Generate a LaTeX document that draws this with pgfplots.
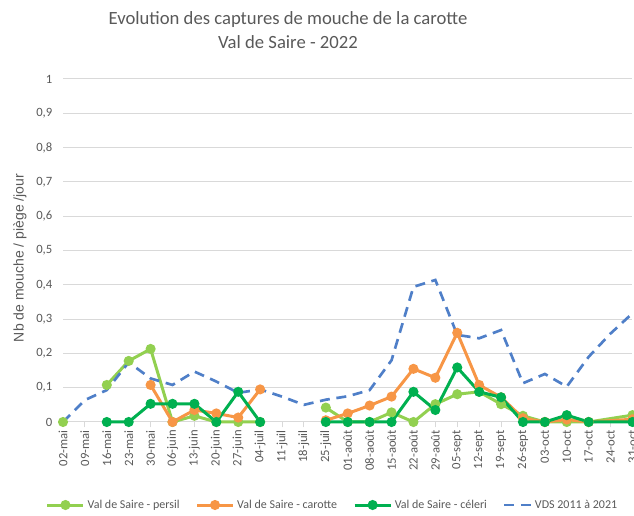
\documentclass[border=0pt]{standalone}
\usepackage{fontspec}
\setmainfont{Carlito}
\newfontfamily\arialf{Liberation Sans}
\usepackage{pgfplots}
\pgfplotsset{compat=1.18}
\definecolor{persil}{HTML}{92D050}
\definecolor{carotte}{HTML}{F79646}
\definecolor{celeri}{HTML}{00B050}
\definecolor{vds}{HTML}{4F7FC8}
\definecolor{txt}{HTML}{595959}
\definecolor{gridc}{HTML}{D9D9D9}
\pgfplotsset{
  linelegend/.style={legend image code/.code={\draw[mark repeat=2,mark phase=2,##1] plot coordinates {(0pt,0pt) (13.5pt,0pt) (27pt,0pt)};}},
  dashlegend/.style={legend image code/.code={\draw[##1] plot coordinates {(0pt,0pt) (20pt,0pt)};}},
}
\begin{document}
\begin{tikzpicture}[x=0.75pt,y=0.75pt]
\useasboundingbox (0,0) rectangle (634,516);
\begin{axis}[
  at={(47.25pt,70.5pt)}, anchor=south west,
  scale only axis, width=427.1pt, height=257.25pt,
  xmin=0, xmax=26, ymin=0, ymax=1,
  clip=false,
  unbounded coords=jump,
  axis x line*=bottom, axis y line*=left,
  x axis line style={draw=gridc, line width=0.75pt, -},
  y axis line style={draw=none},
  ytick={0,0.1,...,1.01},
  ymajorgrids, grid style={draw=gridc, line width=0.75pt},
  ytick style={draw=none},
  xtick={0,...,26},
  xticklabels={02-mai,09-mai,16-mai,23-mai,30-mai,06-juin,13-juin,20-juin,27-juin,04-juil,11-juil,18-juil,25-juil,01-août,08-août,15-août,22-août,29-août,05-sept,12-sept,19-sept,26-sept,03-oct,10-oct,17-oct,24-oct,31-oct},
  xtick align=outside, major tick length=4pt,
  xtick style={draw=gridc, line width=0.75pt},
  xticklabel style={rotate=90, anchor=east, font=\fontsize{9.5}{10}\selectfont, text=txt, inner sep=2pt},
  yticklabel style={font=\fontsize{9.5}{10}\selectfont, text=txt, xshift=-4.5pt, /pgf/number format/use comma, /pgf/number format/assume math mode=true},
  legend columns=4,
  legend style={at={(0.474,-0.242)}, anchor=center, draw=none, fill=none, font=\fontsize{9}{10}\selectfont, text=txt,
    /tikz/every even column/.append style={column sep=10pt}},
  legend cell align=left,
]
\addplot[persil, line width=2.25pt, mark=*, mark size=2.6pt, linelegend]
coordinates {(0,0) (1,nan) (2,0.108) (3,0.178) (4,0.213) (5,0) (6,0.018) (7,0) (8,0) (9,0) (10,nan) (12,0.042) (13,0) (14,0) (15,0.028) (16,0) (17,0.052) (18,0.081) (19,0.088) (20,0.052) (21,0.018) (22,0) (23,0) (24,0) (26,0.02)};
\addlegendentry{Val de Saire - persil}
\addplot[carotte, line width=2.25pt, mark=*, mark size=2.6pt, linelegend]
coordinates {(4,0.108) (5,0) (6,0.035) (7,0.025) (8,0.013) (9,0.095) (10,nan) (12,0.005) (13,0.025) (14,0.048) (15,0.074) (16,0.155) (17,0.129) (18,0.26) (19,0.108) (20,0.072) (21,0.011) (22,0) (23,0.007) (24,0) (26,0.008)};
\addlegendentry{Val de Saire - carotte}
\addplot[celeri, line width=2.25pt, mark=*, mark size=2.6pt, linelegend]
coordinates {(2,0) (3,0) (4,0.053) (5,0.053) (6,0.053) (7,0) (8,0.088) (9,0) (10,nan) (12,0) (13,0) (14,0) (15,0) (16,0.088) (17,0.035) (18,0.159) (19,0.088) (20,0.072) (21,0) (22,0) (23,0.02) (24,0) (26,0)};
\addlegendentry{Val de Saire - céleri}
\addplot[vds, line width=2pt, dash pattern=on 7.5pt off 5pt, mark=none, dashlegend]
coordinates {(0,0) (1,0.064) (2,0.093) (3,0.174) (4,0.127) (5,0.108) (6,0.147) (7,0.118) (8,0.085) (9,0.095) (10,0.074) (11,0.05) (12,0.065) (13,0.075) (14,0.093) (15,0.18) (16,0.394) (17,0.414) (18,0.254) (19,0.244) (20,0.268) (21,0.113) (22,0.14) (23,0.103) (24,0.19) (25,0.258) (26,0.317)};
\addlegendentry{VDS 2011 à 2021}
\end{axis}
\node[align=center, text=txt, font=\fontsize{14}{18}\selectfont] at (288,486) {Evolution des captures de mouche de la carotte\\Val de Saire - 2022};
\node[rotate=90, text=txt, font=\arialf\fontsize{10.5}{12}\selectfont] at (20,258) {Nb de mouche / piège /jour};
\end{tikzpicture}
\end{document}
